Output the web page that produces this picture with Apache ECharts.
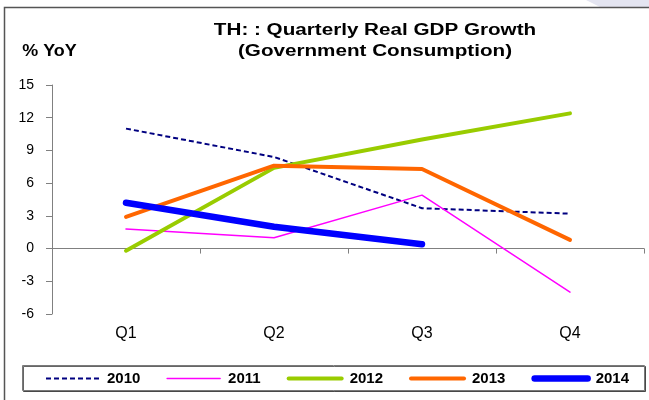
<!DOCTYPE html>
<html><head><meta charset="utf-8">
<script src="https://cdn.jsdelivr.net/npm/echarts@6/dist/echarts.min.js"></script>
<style>html,body{margin:0;padding:0;background:#fff}#c{width:649px;height:400px}</style>
</head><body><div id="c"></div>
<script>
var categories = ['Q1', 'Q2', 'Q3', 'Q4'];
var y2010 = [11.0, 8.4, 3.7, 3.2];
var y2011 = [1.8, 1.0, 4.9, -4.0];
var y2012 = [-0.2, 7.4, 10.0, 12.4];
var y2013 = [2.9, 7.6, 7.3, 0.8];
var y2014 = [4.2, 2.0, 0.4];
var seriesNames = ['2010', '2011', '2012', '2013', '2014'];
var titleLines = ['TH: : Quarterly Real GDP Growth', '(Government Consumption)'];
var yUnit = '% YoY';

var chart = echarts.init(document.getElementById('c'), null, {renderer: 'canvas'});
var FONT = 'Arial, "Liberation Sans", sans-serif';
function line(name, data, color, width, type) {
  return {name: name, type: 'line', data: data, symbol: 'none', smooth: false,
    lineStyle: {color: color, width: width, type: type || 'solid', cap: type ? 'butt' : 'round'},
    itemStyle: {color: color}, emphasis: {disabled: true}, animation: false};
}
chart.setOption({
  animation: false,
  grid: {left: 52, right: 5, top: 85, bottom: 86, containLabel: false, outerBoundsMode: 'none'},
  graphic: [
    {type: 'polygon', shape: {points: [[586,0],[649,0],[649,7],[600,7]]}, style: {fill: '#E4E5F1'}, z: -1},
    {type: 'polyline', shape: {points: [[4.5,400],[4.5,7.5],[649,7.5]]}, style: {stroke: '#555', lineWidth: 1.5, fill: null}},
    {type: 'rect', shape: {x: 22.5, y: 365.5, width: 622, height: 25}, style: {fill: '#fff', stroke: '#7a7a7a', lineWidth: 1, shadowColor: 'rgba(0,0,0,0.6)', shadowOffsetX: 1, shadowOffsetY: 1, shadowBlur: 0}, z: 0},
    {type: 'text', x: 375, y: 30.5, scaleX: 1.29, style: {text: titleLines[0], font: 'bold 16px ' + FONT, fill: '#000', align: 'center', verticalAlign: 'middle'}},
    {type: 'text', x: 375, y: 51.5, scaleX: 1.29, style: {text: titleLines[1], font: 'bold 16px ' + FONT, fill: '#000', align: 'center', verticalAlign: 'middle'}},
    {type: 'text', x: 49.5, y: 52, scaleX: 1.12, style: {text: yUnit, font: 'bold 16px ' + FONT, fill: '#000', align: 'center', verticalAlign: 'middle'}}
  ],
  legend: {
    data: seriesNames, left: 45, top: 371, padding: 0, itemWidth: 53, itemHeight: 14, itemGap: 26,
    itemStyle: {opacity: 0},
    lineStyle: {width: 'inherit'},
    textStyle: {fontFamily: FONT, fontWeight: 'bold', fontSize: 15, color: '#000', padding: [0, 0, 0, 3]},
    selectedMode: false, z: 5
  },
  xAxis: {
    type: 'category', data: categories, boundaryGap: true,
    axisLine: {onZero: true, lineStyle: {color: '#808080', width: 1}},
    axisTick: {show: true, length: 5, lineStyle: {color: '#808080'}},
    axisLabel: {margin: 12, fontFamily: FONT, fontSize: 16, color: '#000'},
    splitLine: {show: false}
  },
  yAxis: {
    type: 'value', min: -6, max: 15, interval: 3,
    axisLine: {show: true, lineStyle: {color: '#808080', width: 1}},
    axisTick: {show: true, length: 6, lineStyle: {color: '#808080'}},
    axisLabel: {margin: 18, fontFamily: FONT, fontSize: 14, color: '#000'},
    splitLine: {show: false}
  },
  series: [
    line(seriesNames[0], y2010, '#000080', 2, [5, 3]),
    line(seriesNames[1], y2011, '#FF00FF', 1.5),
    line(seriesNames[2], y2012, '#99CC00', 4),
    line(seriesNames[3], y2013, '#FF6600', 4),
    line(seriesNames[4], y2014, '#0000FF', 6.5)
  ]
});
</script></body></html>
